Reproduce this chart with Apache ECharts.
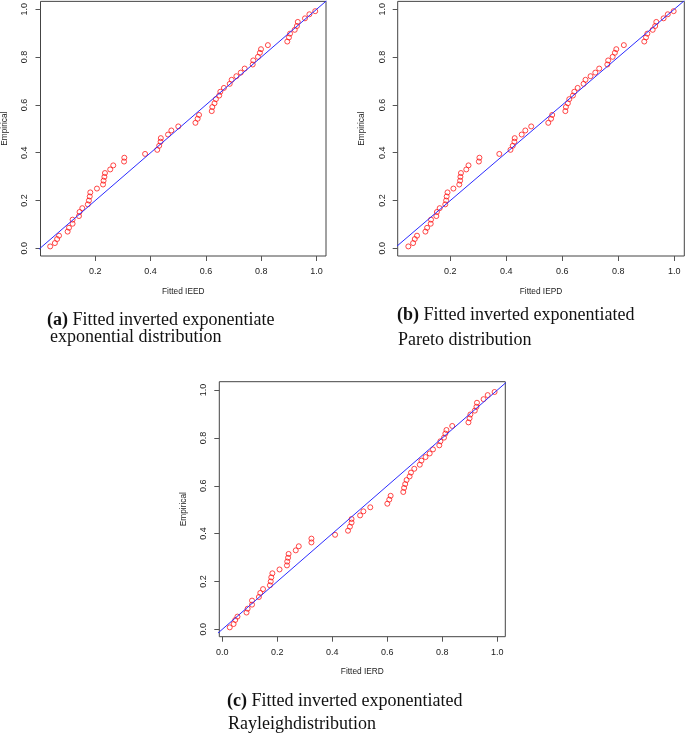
<!DOCTYPE html>
<html><head><meta charset="utf-8">
<script src="https://cdn.jsdelivr.net/npm/echarts@6/dist/echarts.min.js"></script>
<style>html,body{margin:0;padding:0;background:#fff}#c{width:685px;height:735px}</style>
</head><body><div id="c"></div>
<script>
// Empirical probabilities (shared by all three panels)
const empirical = [0.008,0.022,0.039,0.053,0.070,0.086,0.103,0.120,0.135,0.152,0.168,0.184,0.200,0.217,0.234,0.250,0.267,0.283,0.299,0.315,0.330,0.347,0.363,0.379,0.395,0.412,0.429,0.446,0.461,0.476,0.493,0.510,0.525,0.542,0.558,0.574,0.591,0.607,0.624,0.639,0.655,0.671,0.688,0.705,0.720,0.735,0.752,0.769,0.786,0.801,0.818,0.833,0.850,0.865,0.882,0.898,0.914,0.930,0.947,0.962,0.979,0.992];
// Fitted probabilities
const fittedIEED = [0.037,0.054,0.062,0.069,0.100,0.105,0.118,0.118,0.141,0.143,0.153,0.173,0.177,0.180,0.182,0.206,0.228,0.230,0.233,0.235,0.254,0.265,0.304,0.305,0.380,0.424,0.431,0.436,0.437,0.463,0.475,0.500,0.562,0.570,0.575,0.621,0.623,0.631,0.636,0.648,0.652,0.665,0.686,0.693,0.710,0.726,0.740,0.769,0.771,0.788,0.795,0.799,0.824,0.894,0.900,0.904,0.921,0.929,0.932,0.958,0.974,0.995];
const fittedIEPD = [0.050,0.067,0.073,0.081,0.111,0.117,0.130,0.131,0.150,0.152,0.162,0.182,0.185,0.187,0.190,0.211,0.232,0.235,0.236,0.238,0.257,0.265,0.302,0.304,0.375,0.415,0.423,0.429,0.430,0.455,0.468,0.489,0.550,0.560,0.564,0.611,0.613,0.620,0.625,0.638,0.643,0.655,0.676,0.683,0.701,0.718,0.732,0.761,0.764,0.780,0.788,0.793,0.820,0.893,0.899,0.904,0.923,0.932,0.936,0.962,0.977,0.998];
const fittedIERD = [0.027,0.041,0.047,0.055,0.088,0.092,0.108,0.108,0.133,0.138,0.148,0.173,0.176,0.178,0.182,0.208,0.235,0.236,0.239,0.241,0.267,0.278,0.324,0.324,0.410,0.457,0.464,0.470,0.470,0.501,0.513,0.538,0.600,0.607,0.612,0.658,0.661,0.665,0.670,0.681,0.686,0.698,0.718,0.724,0.739,0.754,0.766,0.789,0.793,0.806,0.811,0.815,0.836,0.895,0.899,0.902,0.918,0.924,0.926,0.950,0.965,0.990];
// Tick labels
const xTicksA = [0.2,0.4,0.6,0.8,1.0];
const xTicksB = [0.2,0.4,0.6,0.8,1.0];
const xTicksC = [0.0,0.2,0.4,0.6,0.8,1.0];
const yTicks = [0.0,0.2,0.4,0.6,0.8,1.0];
// Texts
const xTitles = ['Fitted IEED','Fitted IEPD','Fitted IERD'];
const yTitle = 'Empirical';
const captionTags = ['(a)','(b)','(c)'];
const captionLine1 = ['Fitted inverted exponentiate','Fitted inverted exponentiated','Fitted inverted exponentiated'];
const captionLine2 = ['exponential distribution','Pareto distribution','Rayleighdistribution'];
// Reference line y = x
const refLine = [-0.2, 1.2];

const layout = [
  {grid:{left:40, top:0, width:286, height:256}, x:[0.002,1.034], y:[-0.032,1.033]},
  {grid:{left:397.7, top:0, width:286.6, height:256}, x:[0.012,1.036], y:[-0.032,1.033]},
  {grid:{left:219.3, top:381.7, width:286, height:255}, x:[-0.011,1.029], y:[-0.031,1.035]}
];
const xs = [fittedIEED, fittedIEPD, fittedIERD];
const xt = [xTicksA, xTicksB, xTicksC];
const capPos = [
  {x:47, y1:320, x2:50, y2:337.5},
  {x:397, y1:315, x2:398, y2:340.5},
  {x:227, y1:701, x2:228, y2:724.5}
];

const SANS = '"Liberation Sans", Arial, sans-serif';
const SERIF = '"Liberation Serif", "Times New Roman", serif';
const tickStyle = {color:'#555', width:1};
const grids=[], xAxes=[], yAxes=[], series=[], graphics=[];
layout.forEach((p,i)=>{
  grids.push(Object.assign({show:true, borderColor:'#444', borderWidth:1, backgroundColor:'transparent'}, p.grid));
  xAxes.push({type:'value', gridIndex:i, min:p.x[0], max:p.x[1],
    axisLine:{show:false, onZero:false}, splitLine:{show:false},
    axisTick:{show:true, inside:false, length:5, customValues:xt[i], lineStyle:tickStyle},
    axisLabel:{customValues:xt[i], formatter:v=>Number(v).toFixed(1), fontSize:9, color:'#222', margin:11, fontFamily:SANS},
    name:xTitles[i], nameLocation:'middle', nameGap:31.5, nameTextStyle:{fontSize:8.3, color:'#222', fontFamily:SANS}});
  yAxes.push({type:'value', gridIndex:i, min:p.y[0], max:p.y[1],
    axisLine:{show:false, onZero:false}, splitLine:{show:false},
    axisTick:{show:true, inside:false, length:5, customValues:yTicks, lineStyle:tickStyle},
    axisLabel:{customValues:yTicks, rotate:90, formatter:v=>Number(v).toFixed(1), fontSize:9, color:'#222', margin:11, fontFamily:SANS},
    name:yTitle, nameLocation:'middle', nameGap:31.5, nameTextStyle:{fontSize:8.3, color:'#222', fontFamily:SANS}});
  series.push({type:'scatter', xAxisIndex:i, yAxisIndex:i, symbol:'circle', symbolSize:5,
    itemStyle:{color:'rgba(255,255,255,0)', borderColor:'#ff1a1a', borderWidth:1},
    data: xs[i].map((x,j)=>[x, empirical[j]]), z:2, silent:true});
  series.push({type:'line', xAxisIndex:i, yAxisIndex:i, symbol:'none', clip:true,
    lineStyle:{color:'#2b2bff', width:1}, data: refLine.map(v=>[v,v]), z:3, silent:true});
  const c = capPos[i];
  graphics.push({type:'text', x:c.x, y:c.y1, style:{
    text:'{b|'+captionTags[i]+'} '+captionLine1[i], font:'18px '+SERIF, fill:'#111', verticalAlign:'middle',
    rich:{b:{fontWeight:'bold', fontSize:18, fontFamily:SERIF, fill:'#111'}}}});
  graphics.push({type:'text', x:c.x2, y:c.y2, style:{
    text:captionLine2[i], font:'18px '+SERIF, fill:'#111', verticalAlign:'middle'}});
});

const chart = echarts.init(document.getElementById('c'), null, {renderer:'canvas'});
chart.setOption({animation:false, backgroundColor:'#fff', grid:grids, xAxis:xAxes, yAxis:yAxes, series:series, graphic:graphics});
</script></body></html>
